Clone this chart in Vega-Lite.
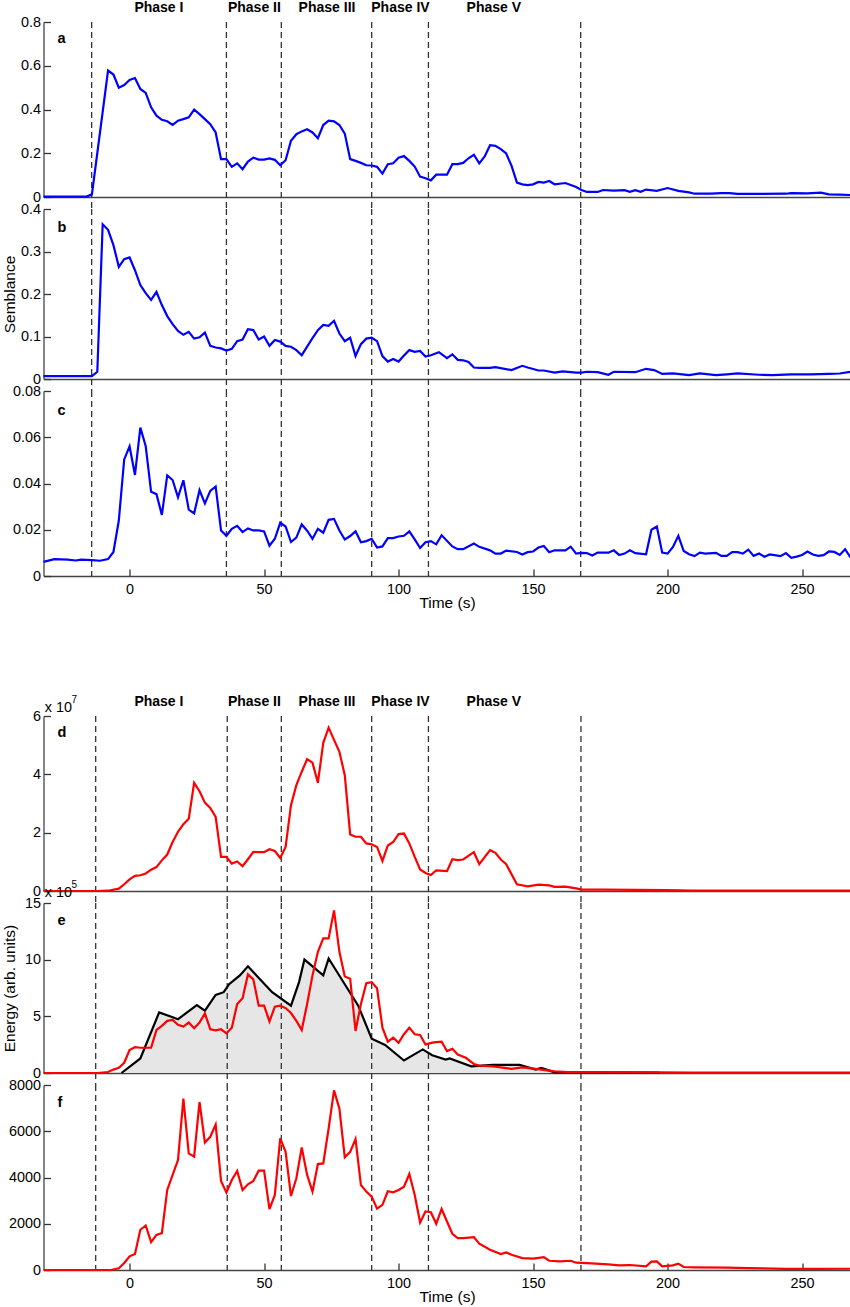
{
  "$schema": "https://vega.github.io/schema/vega-lite/v6.json",
  "padding": {"left": 1.5, "top": 0, "right": 0, "bottom": 0},
  "config": {
    "font": "Liberation Sans",
    "view": {"stroke": null},
    "axis": {
      "grid": false,
      "domainColor": "#444",
      "domainWidth": 1.3,
      "tickColor": "#333",
      "tickWidth": 1.3,
      "labelFont": "Liberation Sans",
      "labelFontSize": 14.4,
      "labelColor": "#000",
      "titleFont": "Liberation Sans",
      "titleFontSize": 15.5,
      "titleFontWeight": "normal",
      "titleColor": "#000",
      "format": "~r"
    },
    "axisY": {"tickSize": -7, "labelPadding": 10},
    "axisX": {"tickSize": -7, "labelPadding": 13, "titlePadding": 0}
  },
  "datasets": {
    "phases": [
      {"label": "Phase I", "t": 10.9},
      {"label": "Phase II", "t": 46.4},
      {"label": "Phase III", "t": 73.4},
      {"label": "Phase IV", "t": 100.7},
      {"label": "Phase V", "t": 135.4}
    ],
    "bounds_top": [{"t": -14.1}, {"t": 36.0}, {"t": 56.4}, {"t": 90.0}, {"t": 111.1}, {"t": 167.7}],
    "bounds_bot": [{"t": -12.6}, {"t": 36.3}, {"t": 56.4}, {"t": 90.0}, {"t": 111.1}, {"t": 167.8}],
    "a": [
      {"t": -32, "v": 0.002}, {"t": -16, "v": 0.002}, {"t": -14, "v": 0.012}, {"t": -8, "v": 0.578}, {"t": -6, "v": 0.56},
      {"t": -4, "v": 0.5}, {"t": -2, "v": 0.512}, {"t": 0, "v": 0.535}, {"t": 2, "v": 0.544}, {"t": 4, "v": 0.494},
      {"t": 6, "v": 0.476}, {"t": 8, "v": 0.41}, {"t": 10, "v": 0.372}, {"t": 12, "v": 0.353}, {"t": 14, "v": 0.346},
      {"t": 16, "v": 0.33}, {"t": 18, "v": 0.349}, {"t": 20, "v": 0.356}, {"t": 22, "v": 0.364}, {"t": 24, "v": 0.399},
      {"t": 26, "v": 0.379}, {"t": 28, "v": 0.356}, {"t": 30, "v": 0.333}, {"t": 32, "v": 0.295}, {"t": 34, "v": 0.173},
      {"t": 36, "v": 0.173}, {"t": 38, "v": 0.138}, {"t": 40, "v": 0.154}, {"t": 42, "v": 0.127}, {"t": 44, "v": 0.162},
      {"t": 46, "v": 0.18}, {"t": 48, "v": 0.171}, {"t": 50, "v": 0.171}, {"t": 52, "v": 0.176}, {"t": 54, "v": 0.17},
      {"t": 56, "v": 0.145}, {"t": 58, "v": 0.168}, {"t": 60, "v": 0.257}, {"t": 62, "v": 0.287}, {"t": 64, "v": 0.3},
      {"t": 66, "v": 0.31}, {"t": 68, "v": 0.295}, {"t": 70, "v": 0.269}, {"t": 72, "v": 0.329}, {"t": 74, "v": 0.349},
      {"t": 76, "v": 0.346}, {"t": 78, "v": 0.329}, {"t": 80, "v": 0.29}, {"t": 82, "v": 0.173}, {"t": 84, "v": 0.165},
      {"t": 86, "v": 0.156}, {"t": 88, "v": 0.145}, {"t": 90, "v": 0.144}, {"t": 92, "v": 0.138}, {"t": 94, "v": 0.107},
      {"t": 96, "v": 0.15}, {"t": 98, "v": 0.154}, {"t": 100, "v": 0.18}, {"t": 102, "v": 0.187}, {"t": 104, "v": 0.165},
      {"t": 106, "v": 0.139}, {"t": 108, "v": 0.093}, {"t": 110, "v": 0.086}, {"t": 112, "v": 0.076}, {"t": 114, "v": 0.102},
      {"t": 118, "v": 0.102}, {"t": 120, "v": 0.15}, {"t": 122, "v": 0.15}, {"t": 124, "v": 0.156}, {"t": 126, "v": 0.177},
      {"t": 128, "v": 0.193}, {"t": 130, "v": 0.154}, {"t": 132, "v": 0.185}, {"t": 134, "v": 0.237}, {"t": 136, "v": 0.234},
      {"t": 138, "v": 0.219}, {"t": 140, "v": 0.199}, {"t": 142, "v": 0.142}, {"t": 144, "v": 0.066}, {"t": 146, "v": 0.058},
      {"t": 148, "v": 0.054}, {"t": 150, "v": 0.058}, {"t": 152, "v": 0.069}, {"t": 154, "v": 0.066}, {"t": 156, "v": 0.073},
      {"t": 158, "v": 0.058}, {"t": 162, "v": 0.064}, {"t": 164, "v": 0.055}, {"t": 166, "v": 0.046}, {"t": 168, "v": 0.032},
      {"t": 170, "v": 0.023}, {"t": 174, "v": 0.023}, {"t": 176, "v": 0.032}, {"t": 180, "v": 0.029}, {"t": 184, "v": 0.031},
      {"t": 186, "v": 0.024}, {"t": 188, "v": 0.031}, {"t": 190, "v": 0.024}, {"t": 192, "v": 0.034}, {"t": 196, "v": 0.028},
      {"t": 200, "v": 0.041}, {"t": 204, "v": 0.028}, {"t": 208, "v": 0.021}, {"t": 210, "v": 0.015}, {"t": 216, "v": 0.015},
      {"t": 220, "v": 0.018}, {"t": 223, "v": 0.018}, {"t": 226, "v": 0.014}, {"t": 234, "v": 0.014}, {"t": 244, "v": 0.015},
      {"t": 246, "v": 0.018}, {"t": 252, "v": 0.017}, {"t": 257, "v": 0.02}, {"t": 260, "v": 0.012}, {"t": 264, "v": 0.011},
      {"t": 268, "v": 0.009}
    ],
    "b": [
      {"t": -32, "v": 0.007}, {"t": -14, "v": 0.007}, {"t": -12, "v": 0.017}, {"t": -10, "v": 0.364}, {"t": -8, "v": 0.351},
      {"t": -6, "v": 0.315}, {"t": -4, "v": 0.264}, {"t": -2, "v": 0.282}, {"t": 0, "v": 0.286}, {"t": 2, "v": 0.256},
      {"t": 4, "v": 0.221}, {"t": 6, "v": 0.202}, {"t": 8, "v": 0.186}, {"t": 10, "v": 0.205}, {"t": 12, "v": 0.174},
      {"t": 14, "v": 0.148}, {"t": 16, "v": 0.129}, {"t": 18, "v": 0.113}, {"t": 20, "v": 0.104}, {"t": 22, "v": 0.111},
      {"t": 24, "v": 0.095}, {"t": 26, "v": 0.098}, {"t": 28, "v": 0.109}, {"t": 30, "v": 0.078}, {"t": 32, "v": 0.074},
      {"t": 34, "v": 0.072}, {"t": 36, "v": 0.067}, {"t": 38, "v": 0.071}, {"t": 40, "v": 0.089}, {"t": 42, "v": 0.093},
      {"t": 44, "v": 0.117}, {"t": 46, "v": 0.115}, {"t": 48, "v": 0.093}, {"t": 50, "v": 0.1}, {"t": 52, "v": 0.078},
      {"t": 54, "v": 0.092}, {"t": 56, "v": 0.088}, {"t": 58, "v": 0.078}, {"t": 60, "v": 0.076}, {"t": 62, "v": 0.068},
      {"t": 64, "v": 0.056}, {"t": 66, "v": 0.076}, {"t": 68, "v": 0.096}, {"t": 70, "v": 0.115}, {"t": 72, "v": 0.127},
      {"t": 74, "v": 0.125}, {"t": 76, "v": 0.137}, {"t": 78, "v": 0.107}, {"t": 80, "v": 0.089}, {"t": 82, "v": 0.097},
      {"t": 84, "v": 0.054}, {"t": 86, "v": 0.082}, {"t": 88, "v": 0.095}, {"t": 90, "v": 0.097}, {"t": 92, "v": 0.089},
      {"t": 94, "v": 0.054}, {"t": 96, "v": 0.041}, {"t": 98, "v": 0.047}, {"t": 100, "v": 0.041}, {"t": 102, "v": 0.055},
      {"t": 104, "v": 0.068}, {"t": 106, "v": 0.064}, {"t": 108, "v": 0.066}, {"t": 110, "v": 0.053}, {"t": 112, "v": 0.056},
      {"t": 115, "v": 0.063}, {"t": 118, "v": 0.049}, {"t": 120, "v": 0.058}, {"t": 122, "v": 0.045}, {"t": 124, "v": 0.044},
      {"t": 126, "v": 0.04}, {"t": 128, "v": 0.027}, {"t": 130, "v": 0.026}, {"t": 134, "v": 0.026}, {"t": 136, "v": 0.028},
      {"t": 142, "v": 0.021}, {"t": 146, "v": 0.031}, {"t": 148, "v": 0.027}, {"t": 152, "v": 0.02}, {"t": 154, "v": 0.02},
      {"t": 158, "v": 0.015}, {"t": 161, "v": 0.018}, {"t": 166, "v": 0.015}, {"t": 168, "v": 0.015}, {"t": 170, "v": 0.017},
      {"t": 174, "v": 0.016}, {"t": 178, "v": 0.01}, {"t": 180, "v": 0.017}, {"t": 188, "v": 0.016}, {"t": 192, "v": 0.024},
      {"t": 195, "v": 0.021}, {"t": 198, "v": 0.012}, {"t": 202, "v": 0.013}, {"t": 208, "v": 0.009}, {"t": 212, "v": 0.013},
      {"t": 218, "v": 0.009}, {"t": 222, "v": 0.011}, {"t": 226, "v": 0.013}, {"t": 234, "v": 0.01}, {"t": 239, "v": 0.009},
      {"t": 246, "v": 0.011}, {"t": 253, "v": 0.011}, {"t": 260, "v": 0.012}, {"t": 264, "v": 0.013}, {"t": 268, "v": 0.017}
    ],
    "c": [
      {"t": -32, "v": 0.0061}, {"t": -28, "v": 0.0073}, {"t": -23, "v": 0.0071}, {"t": -20, "v": 0.0067}, {"t": -18, "v": 0.0071},
      {"t": -14, "v": 0.0069}, {"t": -11, "v": 0.0066}, {"t": -8, "v": 0.0073}, {"t": -6, "v": 0.0104}, {"t": -4, "v": 0.024},
      {"t": -2, "v": 0.0504}, {"t": 0, "v": 0.0561}, {"t": 2, "v": 0.0437}, {"t": 4, "v": 0.0642}, {"t": 6, "v": 0.0561},
      {"t": 8, "v": 0.0364}, {"t": 10, "v": 0.0354}, {"t": 12, "v": 0.0264}, {"t": 14, "v": 0.0435}, {"t": 16, "v": 0.0415},
      {"t": 18, "v": 0.034}, {"t": 20, "v": 0.0414}, {"t": 22, "v": 0.0287}, {"t": 24, "v": 0.0271}, {"t": 26, "v": 0.0371},
      {"t": 28, "v": 0.0314}, {"t": 30, "v": 0.0368}, {"t": 32, "v": 0.0387}, {"t": 34, "v": 0.0197}, {"t": 36, "v": 0.0174},
      {"t": 38, "v": 0.0204}, {"t": 40, "v": 0.0217}, {"t": 42, "v": 0.019}, {"t": 44, "v": 0.0206}, {"t": 46, "v": 0.0197},
      {"t": 48, "v": 0.0197}, {"t": 50, "v": 0.0193}, {"t": 52, "v": 0.0131}, {"t": 54, "v": 0.0161}, {"t": 56, "v": 0.023},
      {"t": 58, "v": 0.0214}, {"t": 60, "v": 0.0147}, {"t": 62, "v": 0.0166}, {"t": 64, "v": 0.0223}, {"t": 66, "v": 0.0196},
      {"t": 68, "v": 0.0161}, {"t": 70, "v": 0.0204}, {"t": 72, "v": 0.0187}, {"t": 74, "v": 0.0243}, {"t": 76, "v": 0.0247},
      {"t": 78, "v": 0.0197}, {"t": 80, "v": 0.0158}, {"t": 82, "v": 0.0173}, {"t": 84, "v": 0.0193}, {"t": 86, "v": 0.0146},
      {"t": 88, "v": 0.0151}, {"t": 90, "v": 0.0161}, {"t": 92, "v": 0.0123}, {"t": 94, "v": 0.0128}, {"t": 96, "v": 0.0164},
      {"t": 98, "v": 0.0164}, {"t": 100, "v": 0.0171}, {"t": 102, "v": 0.0174}, {"t": 104, "v": 0.0193}, {"t": 106, "v": 0.0158},
      {"t": 108, "v": 0.0121}, {"t": 110, "v": 0.0146}, {"t": 112, "v": 0.0151}, {"t": 114, "v": 0.0137}, {"t": 116, "v": 0.0176},
      {"t": 120, "v": 0.0128}, {"t": 122, "v": 0.0116}, {"t": 124, "v": 0.0116}, {"t": 128, "v": 0.014}, {"t": 130, "v": 0.0126},
      {"t": 134, "v": 0.0111}, {"t": 136, "v": 0.0097}, {"t": 138, "v": 0.0097}, {"t": 140, "v": 0.011}, {"t": 144, "v": 0.0104},
      {"t": 146, "v": 0.0093}, {"t": 148, "v": 0.0103}, {"t": 150, "v": 0.0106}, {"t": 152, "v": 0.0123}, {"t": 154, "v": 0.013},
      {"t": 156, "v": 0.0103}, {"t": 158, "v": 0.0111}, {"t": 162, "v": 0.0111}, {"t": 164, "v": 0.0127}, {"t": 166, "v": 0.0097},
      {"t": 168, "v": 0.01}, {"t": 170, "v": 0.0099}, {"t": 172, "v": 0.0089}, {"t": 174, "v": 0.0101}, {"t": 178, "v": 0.0101},
      {"t": 180, "v": 0.0111}, {"t": 182, "v": 0.0091}, {"t": 184, "v": 0.0097}, {"t": 186, "v": 0.0111}, {"t": 188, "v": 0.0099},
      {"t": 192, "v": 0.0094}, {"t": 194, "v": 0.02}, {"t": 196, "v": 0.0214}, {"t": 198, "v": 0.0101}, {"t": 200, "v": 0.0097},
      {"t": 202, "v": 0.0126}, {"t": 204, "v": 0.0174}, {"t": 206, "v": 0.0108}, {"t": 208, "v": 0.0094}, {"t": 210, "v": 0.0086},
      {"t": 212, "v": 0.0101}, {"t": 214, "v": 0.0097}, {"t": 218, "v": 0.01}, {"t": 220, "v": 0.0087}, {"t": 222, "v": 0.0087},
      {"t": 224, "v": 0.0103}, {"t": 226, "v": 0.0103}, {"t": 228, "v": 0.0097}, {"t": 230, "v": 0.0114}, {"t": 232, "v": 0.0087},
      {"t": 234, "v": 0.0097}, {"t": 236, "v": 0.0083}, {"t": 238, "v": 0.0093}, {"t": 242, "v": 0.0086}, {"t": 244, "v": 0.0099},
      {"t": 246, "v": 0.0079}, {"t": 248, "v": 0.0084}, {"t": 250, "v": 0.0091}, {"t": 252, "v": 0.0106}, {"t": 254, "v": 0.0093},
      {"t": 256, "v": 0.0087}, {"t": 258, "v": 0.009}, {"t": 260, "v": 0.0106}, {"t": 262, "v": 0.0104}, {"t": 264, "v": 0.0091},
      {"t": 266, "v": 0.0116}, {"t": 268, "v": 0.008}
    ],
    "d": [
      {"t": -32, "v": 0}, {"t": -12, "v": 0}, {"t": -8, "v": 0.01}, {"t": -4, "v": 0.08}, {"t": -2, "v": 0.23},
      {"t": 0, "v": 0.4}, {"t": 2, "v": 0.52}, {"t": 4, "v": 0.54}, {"t": 6, "v": 0.6}, {"t": 8, "v": 0.73},
      {"t": 10, "v": 0.82}, {"t": 12, "v": 1.05}, {"t": 14, "v": 1.25}, {"t": 16, "v": 1.68}, {"t": 18, "v": 2.03},
      {"t": 20, "v": 2.29}, {"t": 22, "v": 2.48}, {"t": 24, "v": 3.71}, {"t": 26, "v": 3.42}, {"t": 28, "v": 3.03},
      {"t": 30, "v": 2.85}, {"t": 32, "v": 2.54}, {"t": 34, "v": 1.17}, {"t": 36, "v": 1.17}, {"t": 38, "v": 0.94},
      {"t": 40, "v": 1.01}, {"t": 42, "v": 0.85}, {"t": 44, "v": 1.09}, {"t": 46, "v": 1.34}, {"t": 48, "v": 1.33},
      {"t": 50, "v": 1.33}, {"t": 52, "v": 1.43}, {"t": 54, "v": 1.37}, {"t": 56, "v": 1.13}, {"t": 58, "v": 1.51},
      {"t": 60, "v": 2.94}, {"t": 62, "v": 3.63}, {"t": 64, "v": 4.09}, {"t": 66, "v": 4.52}, {"t": 68, "v": 4.4},
      {"t": 70, "v": 3.71}, {"t": 72, "v": 5.08}, {"t": 74, "v": 5.6}, {"t": 76, "v": 5.18}, {"t": 78, "v": 4.77},
      {"t": 80, "v": 3.97}, {"t": 82, "v": 1.94}, {"t": 84, "v": 1.86}, {"t": 86, "v": 1.86}, {"t": 88, "v": 1.63},
      {"t": 90, "v": 1.6}, {"t": 92, "v": 1.51}, {"t": 94, "v": 1.03}, {"t": 96, "v": 1.56}, {"t": 98, "v": 1.68},
      {"t": 100, "v": 1.95}, {"t": 102, "v": 1.97}, {"t": 104, "v": 1.63}, {"t": 106, "v": 1.17}, {"t": 108, "v": 0.74},
      {"t": 110, "v": 0.62}, {"t": 112, "v": 0.55}, {"t": 114, "v": 0.71}, {"t": 118, "v": 0.68}, {"t": 120, "v": 1.09},
      {"t": 122, "v": 1.06}, {"t": 124, "v": 1.08}, {"t": 128, "v": 1.33}, {"t": 130, "v": 0.92}, {"t": 134, "v": 1.4},
      {"t": 136, "v": 1.31}, {"t": 138, "v": 1.08}, {"t": 140, "v": 0.92}, {"t": 144, "v": 0.23}, {"t": 148, "v": 0.16},
      {"t": 152, "v": 0.22}, {"t": 156, "v": 0.19}, {"t": 158, "v": 0.14}, {"t": 162, "v": 0.15}, {"t": 166, "v": 0.09},
      {"t": 168, "v": 0.05}, {"t": 176, "v": 0.05}, {"t": 200, "v": 0.03}, {"t": 209, "v": 0.01}, {"t": 268, "v": 0.01}
    ],
    "e_red": [
      {"t": -32, "v": 0}, {"t": -12, "v": 0}, {"t": -8, "v": 0.09}, {"t": -6, "v": 0.3}, {"t": -4, "v": 0.45},
      {"t": -2, "v": 0.9}, {"t": 0, "v": 2.02}, {"t": 2, "v": 2.29}, {"t": 4, "v": 2.23}, {"t": 6, "v": 2.23},
      {"t": 8, "v": 2.23}, {"t": 10, "v": 3.8}, {"t": 12, "v": 4.16}, {"t": 14, "v": 4.6}, {"t": 16, "v": 4.69},
      {"t": 18, "v": 4.25}, {"t": 20, "v": 4.1}, {"t": 22, "v": 4.45}, {"t": 24, "v": 3.95}, {"t": 26, "v": 4.45},
      {"t": 28, "v": 5.26}, {"t": 30, "v": 3.86}, {"t": 32, "v": 3.77}, {"t": 34, "v": 3.86}, {"t": 36, "v": 3.5},
      {"t": 38, "v": 4.0}, {"t": 40, "v": 6.09}, {"t": 42, "v": 6.59}, {"t": 44, "v": 8.7}, {"t": 46, "v": 8.26},
      {"t": 48, "v": 5.94}, {"t": 50, "v": 5.94}, {"t": 52, "v": 4.54}, {"t": 54, "v": 5.85}, {"t": 56, "v": 5.94},
      {"t": 58, "v": 5.73}, {"t": 60, "v": 5.29}, {"t": 62, "v": 4.6}, {"t": 64, "v": 3.8}, {"t": 66, "v": 6.09},
      {"t": 68, "v": 8.61}, {"t": 70, "v": 10.69}, {"t": 72, "v": 11.88}, {"t": 74, "v": 11.88}, {"t": 76, "v": 14.35},
      {"t": 78, "v": 10.69}, {"t": 80, "v": 8.52}, {"t": 82, "v": 8.32}, {"t": 84, "v": 3.71}, {"t": 86, "v": 6.09},
      {"t": 88, "v": 7.93}, {"t": 90, "v": 8.02}, {"t": 92, "v": 7.48}, {"t": 94, "v": 4.0}, {"t": 96, "v": 2.76},
      {"t": 98, "v": 3.12}, {"t": 100, "v": 2.67}, {"t": 102, "v": 3.42}, {"t": 104, "v": 4.0}, {"t": 106, "v": 3.42},
      {"t": 108, "v": 3.36}, {"t": 110, "v": 2.52}, {"t": 113, "v": 2.7}, {"t": 116, "v": 2.76}, {"t": 118, "v": 1.93},
      {"t": 120, "v": 2.14}, {"t": 122, "v": 1.63}, {"t": 125, "v": 1.34}, {"t": 128, "v": 0.8}, {"t": 130, "v": 0.65},
      {"t": 135, "v": 0.59}, {"t": 142, "v": 0.36}, {"t": 146, "v": 0.5}, {"t": 151, "v": 0.36}, {"t": 158, "v": 0.15},
      {"t": 163, "v": 0.09}, {"t": 177, "v": 0.09}, {"t": 197, "v": 0.06}, {"t": 209, "v": 0.03}, {"t": 268, "v": 0.03}
    ],
    "e_black": [
      {"t": -3, "v": 0}, {"t": 4, "v": 1.28}, {"t": 11, "v": 5.35}, {"t": 18, "v": 4.75}, {"t": 25, "v": 6.0},
      {"t": 28, "v": 5.5}, {"t": 32, "v": 6.89}, {"t": 35, "v": 7.13}, {"t": 37, "v": 7.84}, {"t": 41, "v": 8.61},
      {"t": 44, "v": 9.41}, {"t": 53, "v": 7.13}, {"t": 60, "v": 5.94}, {"t": 63, "v": 8.02}, {"t": 65, "v": 10.01},
      {"t": 72, "v": 8.61}, {"t": 74, "v": 10.1}, {"t": 85, "v": 5.94}, {"t": 90, "v": 3.03}, {"t": 95, "v": 2.47},
      {"t": 102, "v": 1.1}, {"t": 109, "v": 2.08}, {"t": 110, "v": 1.93}, {"t": 112.5, "v": 1.57}, {"t": 117.5, "v": 1.19},
      {"t": 119, "v": 1.28}, {"t": 127, "v": 0.59}, {"t": 135, "v": 0.71}, {"t": 145, "v": 0.71}, {"t": 151, "v": 0.3},
      {"t": 153, "v": 0.45}, {"t": 155, "v": 0.3}, {"t": 158, "v": 0.06}, {"t": 197, "v": 0.03}
    ],
    "f": [
      {"t": -32, "v": 0}, {"t": -7, "v": 0}, {"t": -4, "v": 72}, {"t": -2, "v": 300}, {"t": 0, "v": 590},
      {"t": 2, "v": 690}, {"t": 4, "v": 1740}, {"t": 6, "v": 1925}, {"t": 8, "v": 1205}, {"t": 10, "v": 1520},
      {"t": 12, "v": 1595}, {"t": 14, "v": 3460}, {"t": 16, "v": 4110}, {"t": 18, "v": 4755}, {"t": 20, "v": 7410},
      {"t": 22, "v": 5040}, {"t": 24, "v": 4900}, {"t": 26, "v": 7265}, {"t": 28, "v": 5515}, {"t": 30, "v": 5760},
      {"t": 32, "v": 6290}, {"t": 34, "v": 3850}, {"t": 36, "v": 3345}, {"t": 38, "v": 3890}, {"t": 40, "v": 4280},
      {"t": 42, "v": 3460}, {"t": 44, "v": 3705}, {"t": 46, "v": 3850}, {"t": 48, "v": 4295}, {"t": 50, "v": 4295},
      {"t": 52, "v": 2630}, {"t": 54, "v": 3245}, {"t": 56, "v": 5690}, {"t": 58, "v": 5110}, {"t": 60, "v": 3200},
      {"t": 62, "v": 3965}, {"t": 64, "v": 5300}, {"t": 66, "v": 4110}, {"t": 68, "v": 3390}, {"t": 70, "v": 4580},
      {"t": 72, "v": 4610}, {"t": 74, "v": 6120}, {"t": 76, "v": 7770}, {"t": 78, "v": 6980}, {"t": 80, "v": 4870},
      {"t": 82, "v": 5110}, {"t": 84, "v": 5660}, {"t": 86, "v": 3675}, {"t": 88, "v": 3390}, {"t": 90, "v": 3175},
      {"t": 92, "v": 2655}, {"t": 94, "v": 2815}, {"t": 96, "v": 3405}, {"t": 98, "v": 3360}, {"t": 100, "v": 3460},
      {"t": 102, "v": 3605}, {"t": 104, "v": 4150}, {"t": 106, "v": 3245}, {"t": 108, "v": 2055}, {"t": 110, "v": 2530},
      {"t": 112, "v": 2500}, {"t": 114, "v": 2000}, {"t": 116, "v": 2640}, {"t": 118, "v": 2095}, {"t": 120, "v": 1565},
      {"t": 122, "v": 1380}, {"t": 124, "v": 1380}, {"t": 128, "v": 1420}, {"t": 130, "v": 1135}, {"t": 134, "v": 875},
      {"t": 138, "v": 690}, {"t": 140, "v": 760}, {"t": 142, "v": 660}, {"t": 146, "v": 515}, {"t": 150, "v": 490},
      {"t": 154, "v": 560}, {"t": 156, "v": 400}, {"t": 160, "v": 375}, {"t": 164, "v": 400}, {"t": 166, "v": 315},
      {"t": 170, "v": 300}, {"t": 178, "v": 245}, {"t": 182, "v": 200}, {"t": 186, "v": 215}, {"t": 192, "v": 160},
      {"t": 194, "v": 360}, {"t": 196, "v": 375}, {"t": 198, "v": 160}, {"t": 202, "v": 200}, {"t": 204, "v": 275},
      {"t": 206, "v": 130}, {"t": 210, "v": 115}, {"t": 222, "v": 100}, {"t": 230, "v": 85}, {"t": 244, "v": 45},
      {"t": 256, "v": 45}, {"t": 268, "v": 55}
    ]
  },
  "spacing": 12,
  "bounds": "flush",
  "vconcat": [
    {
      "width": 807,
      "height": 175,
      "layer": [
        {
          "data": {"name": "bounds_top"},
          "mark": {"type": "rule", "color": "#333", "strokeWidth": 1.3, "strokeDash": [6, 4]},
          "encoding": {
            "x": {"field": "t", "type": "quantitative"},
            "y": {"datum": 0.8, "type": "quantitative"},
            "y2": {"datum": -0.055}
          }
        },
        {
          "data": {"name": "a"},
          "mark": {"type": "line", "color": "#0000ff", "strokeWidth": 2.2},
          "encoding": {
            "x": {"field": "t", "type": "quantitative", "scale": {"domain": [-32, 268], "nice": false, "zero": false}, "axis": {"labels": false, "ticks": false, "title": null}},
            "y": {"field": "v", "type": "quantitative", "scale": {"domain": [0, 0.8], "nice": false}, "axis": {"values": [0, 0.2, 0.4, 0.6, 0.8], "title": null}}
          }
        },
        {
          "data": {"name": "phases"},
          "mark": {"type": "text", "fontWeight": "bold", "fontSize": 14, "align": "center", "baseline": "alphabetic"},
          "encoding": {
            "x": {"field": "t", "type": "quantitative"},
            "y": {"datum": 0.846, "type": "quantitative"},
            "text": {"field": "label"}
          }
        },
        {
          "data": {"values": [{"label": "a"}]},
          "mark": {"type": "text", "fontWeight": "bold", "fontSize": 14.5, "align": "left", "baseline": "alphabetic"},
          "encoding": {
            "x": {"datum": -26.8, "type": "quantitative"},
            "y": {"datum": 0.705, "type": "quantitative"},
            "text": {"field": "label"}
          }
        }
      ]
    },
    {
      "width": 807,
      "height": 170,
      "layer": [
        {
          "data": {"name": "bounds_top"},
          "mark": {"type": "rule", "color": "#333", "strokeWidth": 1.3, "strokeDash": [6, 4]},
          "encoding": {
            "x": {"field": "t", "type": "quantitative"},
            "y": {"datum": 0.4, "type": "quantitative"},
            "y2": {"datum": -0.028}
          }
        },
        {
          "data": {"name": "b"},
          "mark": {"type": "line", "color": "#0000ff", "strokeWidth": 2.2},
          "encoding": {
            "x": {"field": "t", "type": "quantitative", "scale": {"domain": [-32, 268], "nice": false, "zero": false}, "axis": {"labels": false, "ticks": false, "title": null}},
            "y": {"field": "v", "type": "quantitative", "scale": {"domain": [0, 0.4], "nice": false}, "axis": {"values": [0, 0.1, 0.2, 0.3, 0.4], "title": "Semblance", "titleX": -29.3, "titleBaseline": "alphabetic"}}
          }
        },
        {
          "data": {"values": [{"label": "b"}]},
          "mark": {"type": "text", "fontWeight": "bold", "fontSize": 14.5, "align": "left", "baseline": "alphabetic"},
          "encoding": {
            "x": {"datum": -26.8, "type": "quantitative"},
            "y": {"datum": 0.346, "type": "quantitative"},
            "text": {"field": "label"}
          }
        }
      ]
    },
    {
      "width": 807,
      "height": 185,
      "layer": [
        {
          "data": {"name": "bounds_top"},
          "mark": {"type": "rule", "color": "#333", "strokeWidth": 1.3, "strokeDash": [6, 4]},
          "encoding": {
            "x": {"field": "t", "type": "quantitative"},
            "y": {"datum": 0.08, "type": "quantitative"},
            "y2": {"datum": 0}
          }
        },
        {
          "data": {"name": "c"},
          "mark": {"type": "line", "color": "#0000ff", "strokeWidth": 2.2},
          "encoding": {
            "x": {"field": "t", "type": "quantitative", "scale": {"domain": [-32, 268], "nice": false, "zero": false}, "axis": {"values": [0, 50, 100, 150, 200, 250], "title": "Time (s)"}},
            "y": {"field": "v", "type": "quantitative", "scale": {"domain": [0, 0.08], "nice": false}, "axis": {"values": [0, 0.02, 0.04, 0.06, 0.08], "title": null}}
          }
        },
        {
          "data": {"values": [{"label": "c"}]},
          "mark": {"type": "text", "fontWeight": "bold", "fontSize": 14.5, "align": "left", "baseline": "alphabetic"},
          "encoding": {
            "x": {"datum": -26.8, "type": "quantitative"},
            "y": {"datum": 0.0698, "type": "quantitative"},
            "text": {"field": "label"}
          }
        }
      ]
    },
    {
      "width": 807,
      "height": 116,
      "data": {"values": [{"t": 0}]},
      "mark": {"type": "text", "text": ""},
      "encoding": {}
    },
    {
      "width": 807,
      "height": 175,
      "layer": [
        {
          "data": {"name": "bounds_bot"},
          "mark": {"type": "rule", "color": "#333", "strokeWidth": 1.3, "strokeDash": [6, 4]},
          "encoding": {
            "x": {"field": "t", "type": "quantitative"},
            "y": {"datum": 6, "type": "quantitative"},
            "y2": {"datum": -0.41}
          }
        },
        {
          "data": {"name": "d"},
          "mark": {"type": "line", "color": "#ff0000", "strokeWidth": 2.2},
          "encoding": {
            "x": {"field": "t", "type": "quantitative", "scale": {"domain": [-32, 268], "nice": false, "zero": false}, "axis": {"labels": false, "ticks": false, "title": null}},
            "y": {"field": "v", "type": "quantitative", "scale": {"domain": [0, 6], "nice": false}, "axis": {"values": [0, 2, 4, 6], "title": null}}
          }
        },
        {
          "data": {"name": "phases"},
          "mark": {"type": "text", "fontWeight": "bold", "fontSize": 14, "align": "center", "baseline": "alphabetic"},
          "encoding": {
            "x": {"field": "t", "type": "quantitative"},
            "y": {"datum": 6.35, "type": "quantitative"},
            "text": {"field": "label"}
          }
        },
        {
          "data": {"values": [{"label": "x 10"}]},
          "mark": {"type": "text", "fontSize": 14.4, "align": "left", "baseline": "alphabetic"},
          "encoding": {
            "x": {"datum": -31.5, "type": "quantitative"},
            "y": {"datum": 6.137, "type": "quantitative"},
            "text": {"field": "label"}
          }
        },
        {
          "data": {"values": [{"label": "7"}]},
          "mark": {"type": "text", "fontSize": 10, "align": "left", "baseline": "alphabetic"},
          "encoding": {
            "x": {"datum": -21.6, "type": "quantitative"},
            "y": {"datum": 6.45, "type": "quantitative"},
            "text": {"field": "label"}
          }
        },
        {
          "data": {"values": [{"label": "d"}]},
          "mark": {"type": "text", "fontWeight": "bold", "fontSize": 14.5, "align": "left", "baseline": "alphabetic"},
          "encoding": {
            "x": {"datum": -26.8, "type": "quantitative"},
            "y": {"datum": 5.29, "type": "quantitative"},
            "text": {"field": "label"}
          }
        }
      ]
    },
    {
      "width": 807,
      "height": 170,
      "layer": [
        {
          "data": {"name": "e_black"},
          "mark": {"type": "area", "color": "#e6e6e6"},
          "encoding": {
            "x": {"field": "t", "type": "quantitative"},
            "y": {"field": "v", "type": "quantitative"}
          }
        },
        {
          "data": {"name": "bounds_bot"},
          "mark": {"type": "rule", "color": "#333", "strokeWidth": 1.3, "strokeDash": [6, 4]},
          "encoding": {
            "x": {"field": "t", "type": "quantitative"},
            "y": {"datum": 15, "type": "quantitative"},
            "y2": {"datum": -1.07}
          }
        },
        {
          "data": {"name": "e_black"},
          "mark": {"type": "line", "color": "#000000", "strokeWidth": 2.2},
          "encoding": {
            "x": {"field": "t", "type": "quantitative"},
            "y": {"field": "v", "type": "quantitative"}
          }
        },
        {
          "data": {"name": "e_red"},
          "mark": {"type": "line", "color": "#ff0000", "strokeWidth": 2.2},
          "encoding": {
            "x": {"field": "t", "type": "quantitative", "scale": {"domain": [-32, 268], "nice": false, "zero": false}, "axis": {"labels": false, "ticks": false, "title": null}},
            "y": {"field": "v", "type": "quantitative", "scale": {"domain": [0, 15], "nice": false}, "axis": {"values": [0, 5, 10, 15], "title": "Energy (arb. units)", "titleX": -29.3, "titleBaseline": "alphabetic"}}
          }
        },
        {
          "data": {"values": [{"label": "x 10"}]},
          "mark": {"type": "text", "fontSize": 14.4, "align": "left", "baseline": "alphabetic"},
          "encoding": {
            "x": {"datum": -31.5, "type": "quantitative"},
            "y": {"datum": 15.53, "type": "quantitative"},
            "text": {"field": "label"}
          }
        },
        {
          "data": {"values": [{"label": "5"}]},
          "mark": {"type": "text", "fontSize": 10, "align": "left", "baseline": "alphabetic"},
          "encoding": {
            "x": {"datum": -21.6, "type": "quantitative"},
            "y": {"datum": 16.34, "type": "quantitative"},
            "text": {"field": "label"}
          }
        },
        {
          "data": {"values": [{"label": "e"}]},
          "mark": {"type": "text", "fontWeight": "bold", "fontSize": 14.5, "align": "left", "baseline": "alphabetic"},
          "encoding": {
            "x": {"datum": -26.8, "type": "quantitative"},
            "y": {"datum": 13.07, "type": "quantitative"},
            "text": {"field": "label"}
          }
        }
      ]
    },
    {
      "width": 807,
      "height": 185,
      "layer": [
        {
          "data": {"name": "bounds_bot"},
          "mark": {"type": "rule", "color": "#333", "strokeWidth": 1.3, "strokeDash": [6, 4]},
          "encoding": {
            "x": {"field": "t", "type": "quantitative"},
            "y": {"datum": 8000, "type": "quantitative"},
            "y2": {"datum": 0}
          }
        },
        {
          "data": {"name": "f"},
          "mark": {"type": "line", "color": "#ff0000", "strokeWidth": 2.2},
          "encoding": {
            "x": {"field": "t", "type": "quantitative", "scale": {"domain": [-32, 268], "nice": false, "zero": false}, "axis": {"values": [0, 50, 100, 150, 200, 250], "title": "Time (s)"}},
            "y": {"field": "v", "type": "quantitative", "scale": {"domain": [0, 8000], "nice": false}, "axis": {"values": [0, 2000, 4000, 6000, 8000], "title": null}}
          }
        },
        {
          "data": {"values": [{"label": "f"}]},
          "mark": {"type": "text", "fontWeight": "bold", "fontSize": 14.5, "align": "left", "baseline": "alphabetic"},
          "encoding": {
            "x": {"datum": -26.8, "type": "quantitative"},
            "y": {"datum": 7049, "type": "quantitative"},
            "text": {"field": "label"}
          }
        }
      ]
    }
  ]
}
